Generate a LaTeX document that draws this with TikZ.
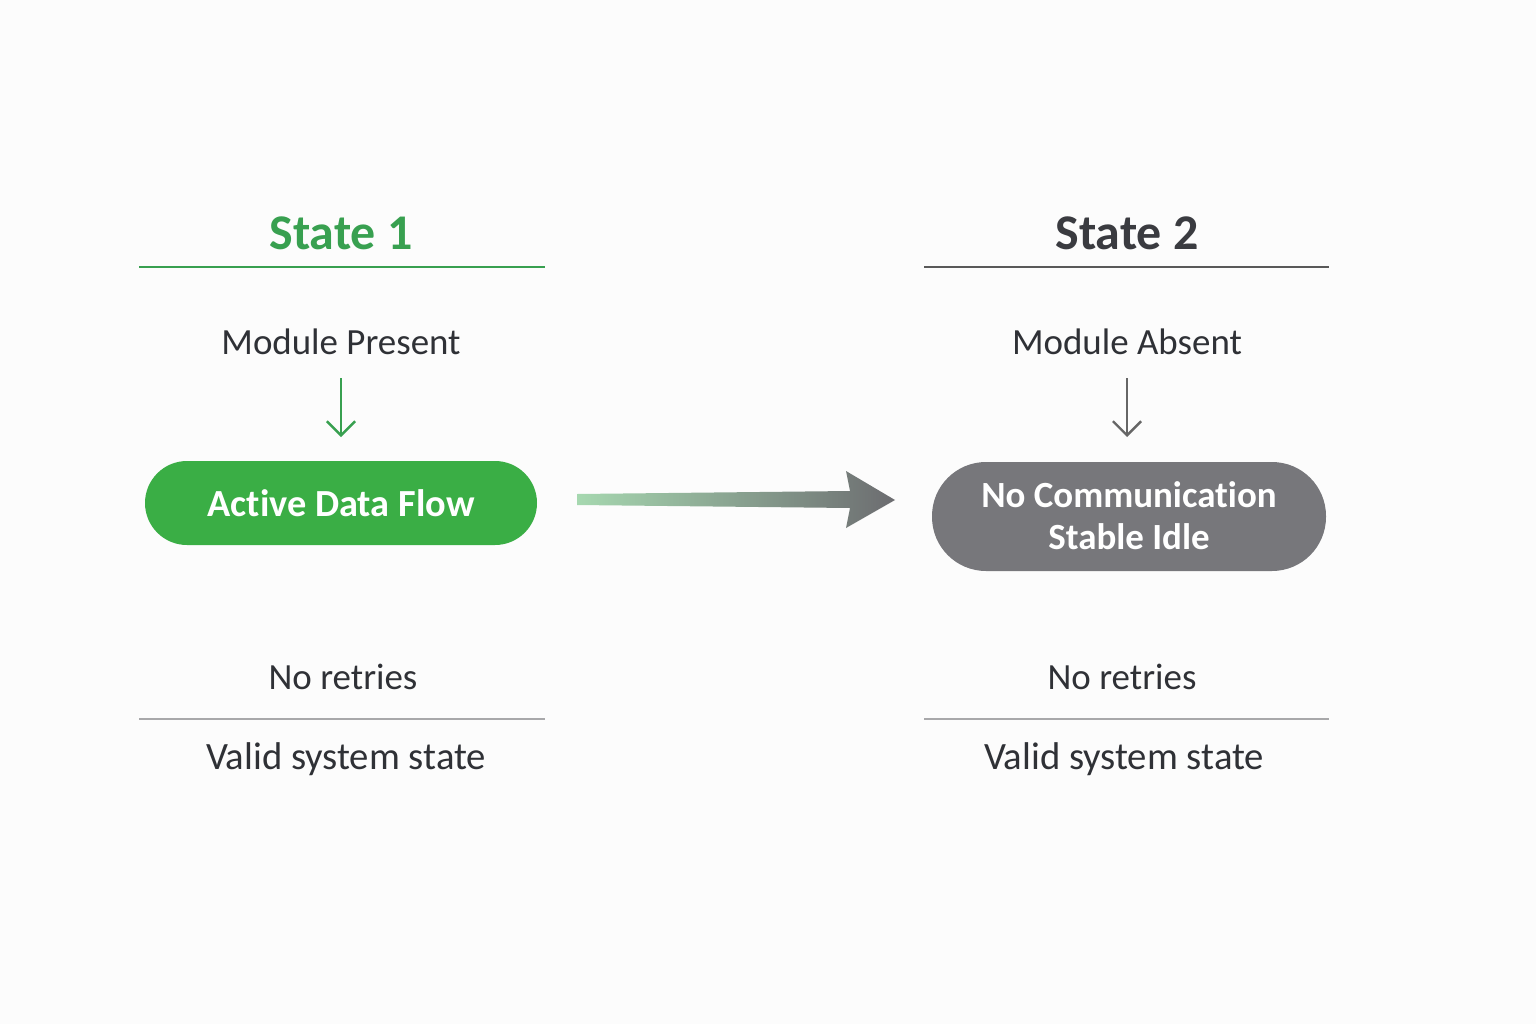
\documentclass[tikz,border=0pt]{standalone}
\usepackage{fontspec}
\setmainfont{Carlito}[Ligatures={NoCommon,NoContextual}]
\usetikzlibrary{arrows.meta}
\definecolor{bg}{HTML}{FCFCFC}
\definecolor{sgreen}{HTML}{38A050}
\definecolor{pgreen}{HTML}{3AAE45}
\definecolor{sdark}{HTML}{3A3B40}
\definecolor{txt}{HTML}{2F3136}
\definecolor{pgray}{HTML}{77777B}
\definecolor{lgray}{HTML}{A8A8AA}
\definecolor{agray}{HTML}{6C6C70}
\definecolor{agreen}{HTML}{A6D8B0}
\tikzset{
  title/.style={font=\fontsize{14.2}{17}\selectfont\bfseries, anchor=center},
  body/.style={font=\fontsize{10.5}{12}\selectfont, text=txt, anchor=center},
  pill/.style={text=white, align=center,
    font=\fontsize{10.9}{11.9}\selectfont\bfseries, inner sep=0pt},
  rule/.style={line width=2.4pt*0.2845},
  downarrow/.style={line width=0.7pt, -{Straight Barb[length=4pt, width=8pt, line width=0.7pt]}},
}
\begin{document}
\begin{tikzpicture}[x=0.01cm, y=-0.01cm]
\fill[bg] (0,0) rectangle (1536,1024);
\useasboundingbox (0,0) rectangle (1536,1024);

% State 1 column
\node[title, text=sgreen] (t1) at (341,233) {State 1};
\coordinate (r1a) at (139,267); \coordinate (r1b) at (545,267);
\draw[rule, sgreen] (r1a) -- (r1b);
\node[body] (m1) at (341,342) {Module Present};
\fill[pgreen, rounded corners=42*0.01cm] (145,461) rectangle (537,545);
\node[pill] (p1) at (341,503) {Active Data Flow};
\coordinate (p1top) at (341,437);
\draw[downarrow, sgreen] (341,378) -- (p1top);
\node[body] (n1) at (343,677) {No retries};
\draw[rule, lgray] (139,719) -- (545,719);
\node[body, font=\fontsize{11}{12}\selectfont] (v1) at (346,759) {Valid system state};

% State 2 column
\node[title, text=sdark] (t2) at (1127,233) {State 2};
\draw[rule, line width=1.8pt*0.2845, black!65] (924,267) -- (1329,267);
\node[body] (m2) at (1127,342) {Module Absent};
\fill[pgray] (932,462) [rounded corners=54*0.01cm] rectangle (1326,571);
\node[pill, font=\fontsize{10.5}{11.9}\selectfont\bfseries] (p2) at (1129,516) {No Communication\\Stable Idle};
\draw[downarrow, black!60] (1127,378) -- (1127,437);
\node[body] (n2) at (1122,677) {No retries};
\draw[rule, lgray] (924,719) -- (1329,719);
\node[body, font=\fontsize{11}{12}\selectfont] (v2) at (1124,759) {Valid system state};

% transition arrow
\shade[left color=agreen, right color=agray]
  (577,494) -- (850,491) -- (846,471) -- (895,500) -- (846,528) -- (850,508) -- (577,505) -- cycle;
\end{tikzpicture}
\end{document}
